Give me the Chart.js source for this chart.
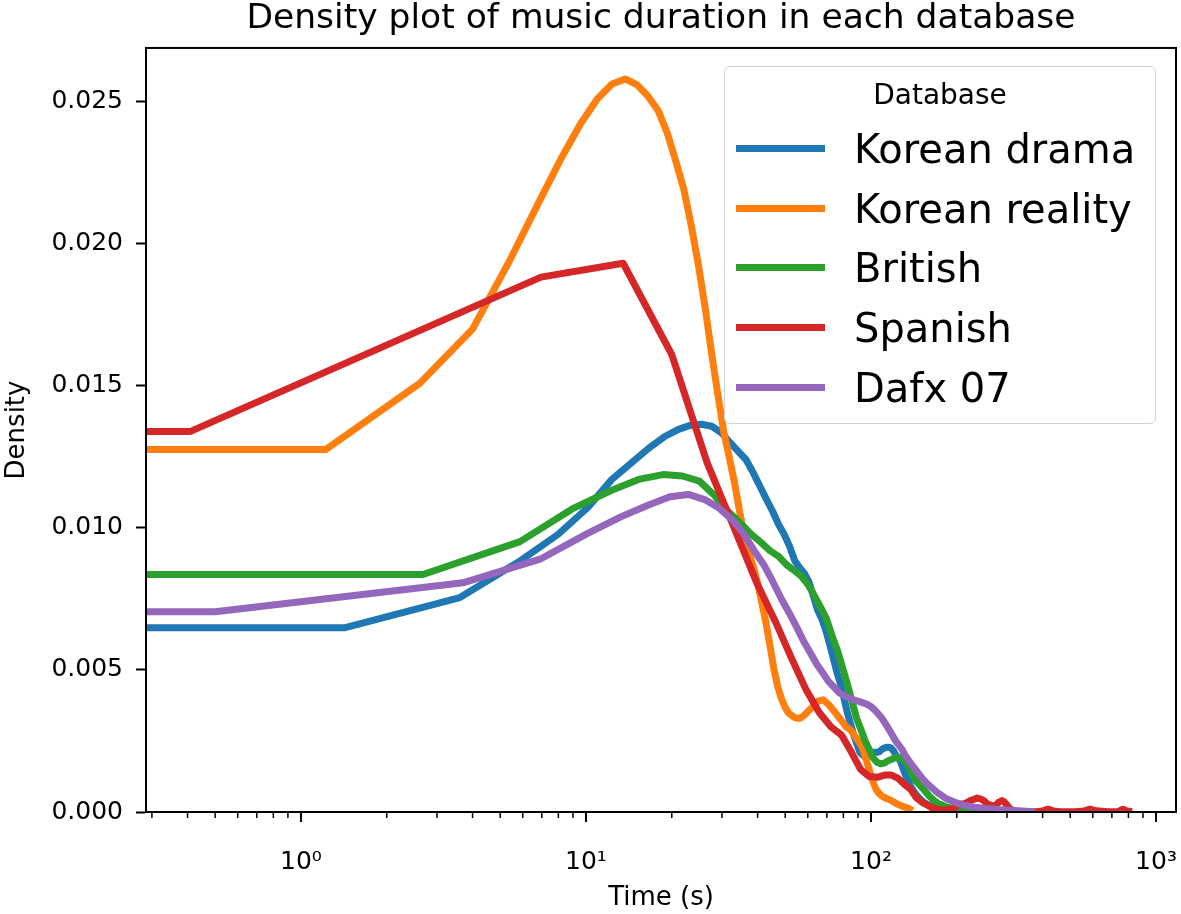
<!DOCTYPE html>
<html>
<head>
<meta charset="utf-8">
<script src="https://cdn.jsdelivr.net/npm/chart.js@4.4.1/dist/chart.umd.min.js"></script>
<style>
  body { margin: 0; background: #fff; }
  #wrap { position: relative; width: 1181px; height: 914px; font-family: "DejaVu Sans", sans-serif; color: #000; }
  #legend { position: absolute; left: 724px; top: 66px; width: 430px; height: 356px;
            border: 1.5px solid #d0d0d0; border-radius: 6px; background: rgba(255,255,255,0.8); }
  #legend .title { position: absolute; left: 0; right: 0; top: 11px; text-align: center; font-size: 28px; }
  #legend .row { position: absolute; left: 0; height: 50px; }
  #legend .swatch { position: absolute; left: 11px; top: 21px; width: 89px; height: 7px; }
  #legend .label { position: absolute; left: 129px; top: 0; font-size: 40px; line-height: 50px; white-space: nowrap; }
</style>
</head>
<body>
<div id="wrap">
  <canvas id="densityChart" width="1181" height="914"></canvas>
  <div id="legend"><div class="title">Database</div></div>
</div>
<script>
// series (time in s, density)
const seriesNames = ["Korean drama", "Korean reality", "British", "Spanish", "Dafx 07"];
const seriesColors = ["#1f77b4", "#ff7f0e", "#2ca02c", "#d62728", "#9467bd"];

const dramaTime = [0.1, 1.43, 3.61, 5.79, 7.97, 10.15, 12.33, 14.5, 16.7, 18.9, 21.1, 23.2, 25.4, 27.6, 29.8, 32, 34.2, 36.4, 38.6, 40.8, 43, 45.2, 47.4, 49.6, 51.8, 54, 56.2, 58.4, 60.6, 62.8, 65, 67.2, 69.4, 71.6, 73.8, 76, 78.2, 80.4, 82.6, 84.8, 87, 89.2, 91.4, 93.6, 95.8, 98, 100.2, 102.4, 104.6, 106.8, 109, 111.2, 113.4, 115.6, 117.8, 120, 122.2, 124.4, 126.6, 128.8, 131, 133.2, 135.4, 137.6, 139.8, 142, 144.2, 146.4, 150.8, 155.2, 163.9, 172.7, 185.8, 199, 221, 250, 300, 340];
const dramaDensity = [0.00649, 0.00649, 0.00755, 0.0088, 0.00977, 0.01072, 0.01171, 0.01231, 0.01283, 0.01322, 0.01347, 0.01361, 0.01365, 0.01358, 0.01336, 0.01301, 0.0127, 0.01241, 0.01195, 0.01146, 0.011, 0.01058, 0.01012, 0.00977, 0.00935, 0.00885, 0.0086, 0.0084, 0.0081, 0.0076, 0.0071, 0.0068, 0.0064, 0.0059, 0.0054, 0.0049, 0.0045, 0.004, 0.0035, 0.0031, 0.0027, 0.0024, 0.0021, 0.002, 0.00195, 0.002, 0.0021, 0.0021, 0.0021, 0.00212, 0.0022, 0.00225, 0.00228, 0.00228, 0.00225, 0.00215, 0.002, 0.0019, 0.0018, 0.0016, 0.0014, 0.0012, 0.0011, 0.0009, 0.0008, 0.0007, 0.0006, 0.00053, 0.0004, 0.0003, 0.00018, 0.00013, 0.0001, 0.00007, 0.00004, 0.00002, 0.00001, 0];

const realityTime = [0.1, 1.22, 2.61, 4.0, 5.39, 6.78, 8.17, 9.56, 10.95, 12.34, 13.73, 15.12, 16.51, 17.9, 19.29, 20.68, 22.07, 23.46, 24.85, 26.24, 27.63, 29.02, 30.41, 31.8, 33.19, 34.58, 35.97, 37.36, 38.75, 40.14, 41.53, 42.92, 44.31, 45.7, 47.09, 48.48, 49.87, 51.26, 52.65, 54.04, 55.43, 56.82, 58.21, 59.6, 62.38, 65.16, 67.94, 70.72, 73.5, 76.28, 79.06, 81.84, 84.62, 87.4, 90.18, 92.96, 95.74, 98.52, 101.3, 104.08, 106.86, 109.64, 112.42, 118, 123.5, 129, 134.6, 140.2];
const realityDensity = [0.01276, 0.01276, 0.01509, 0.017, 0.0194, 0.0214, 0.023, 0.02422, 0.0251, 0.02563, 0.02581, 0.0256, 0.0252, 0.0247, 0.0239, 0.0229, 0.0219, 0.0206, 0.0192, 0.0177, 0.0161, 0.0147, 0.0134, 0.0125, 0.0116, 0.0106, 0.0097, 0.0091, 0.0086, 0.008, 0.0073, 0.0066, 0.0058, 0.005, 0.0044, 0.004, 0.0037, 0.0035, 0.0034, 0.00332, 0.0033, 0.00332, 0.0034, 0.0035, 0.0037, 0.0039, 0.00395, 0.0038, 0.0036, 0.0034, 0.0032, 0.003, 0.0029, 0.0027, 0.0025, 0.0023, 0.0019, 0.0015, 0.0011, 0.0008, 0.00065, 0.00055, 0.00049, 0.0004, 0.00028, 0.0002, 0.00014, 0.00005];

const britishTime = [0.1, 2.68, 5.87, 9.06, 12.25, 15.44, 18.63, 21.8, 25, 28.2, 31.4, 34.6, 37.8, 41, 44.2, 47.4, 50.6, 53.8, 57, 60.2, 63.4, 66.6, 69.8, 73, 76.2, 79.4, 82.6, 85.8, 89, 92.2, 95.4, 98.6, 101.8, 105, 108.2, 111.4, 114.6, 117.8, 121, 124.2, 127.4, 130.6, 133.8, 137, 140.2, 143.4, 146.6, 153, 159.4, 165.8, 172.2, 185, 200, 230, 260, 300, 340];
const britishDensity = [0.00836, 0.00836, 0.00952, 0.0107, 0.01132, 0.01172, 0.01188, 0.01183, 0.01165, 0.01115, 0.0106, 0.0102, 0.0098, 0.0095, 0.0092, 0.009, 0.0087, 0.0085, 0.0083, 0.008, 0.0076, 0.0072, 0.0068, 0.0062, 0.0057, 0.0051, 0.0045, 0.0039, 0.0033, 0.0029, 0.0025, 0.0022, 0.0019, 0.00175, 0.0017, 0.00172, 0.0018, 0.00185, 0.0019, 0.00193, 0.00192, 0.0018, 0.0017, 0.0015, 0.0013, 0.0011, 0.001, 0.0008, 0.00058, 0.00042, 0.0003, 0.00017, 0.00011, 0.00007, 0.00004, 0.00002, 0.00001];

const spanishTime = [0.1, 0.41, 6.95, 13.5, 20.0, 26.6, 33.1, 39.6, 46.2, 52.7, 59.2, 65.8, 72.3, 78.9, 85.4, 91.9, 98.5, 105, 111.5, 118, 124.6, 131.1, 137.7, 144.2, 150.7, 157.3, 163.8, 170.3, 176.9, 183.4, 190, 196.5, 203, 209.6, 216, 222.6, 229, 235.7, 242, 248.7, 255, 261.8, 268, 274.8, 281, 288, 294, 301, 307, 314, 320, 340, 380, 400, 418, 436, 460, 520, 560, 587, 614, 680, 740, 766, 790, 824];
const spanishDensity = [0.0134, 0.0134, 0.01883, 0.01932, 0.0161, 0.0123, 0.01, 0.0081, 0.0067, 0.0054, 0.0043, 0.0035, 0.003, 0.0027, 0.0021, 0.0015, 0.00125, 0.00122, 0.0013, 0.0013, 0.00118, 0.00097, 0.0008, 0.0005, 0.00035, 0.00025, 0.00014, 0.0001, 0.00007, 0.00008, 0.0001, 0.00015, 0.00028, 0.00028, 0.00032, 0.0004, 0.00044, 0.00049, 0.00046, 0.0004, 0.0003, 0.00025, 0.0002, 0.00025, 0.00035, 0.0004, 0.00035, 0.00022, 0.00012, 0.00006, 0.00003, 0.00002, 0.00001, 0.00004, 0.0001, 0.00004, 0.00001, 0.00001, 0.00004, 0.0001, 0.00004, 0.00001, 0.00002, 0.0001, 0.00004, 0.00001];

const dafxTime = [0.1, 0.5, 3.7, 6.9, 10.1, 13.3, 16.5, 19.7, 22.9, 26.1, 29.3, 32.5, 35.7, 38.9, 42.1, 45.3, 48.5, 51.7, 54.9, 58.1, 61.3, 64.5, 67.7, 70.9, 74.1, 77.3, 80.5, 83.7, 86.9, 90.1, 93.3, 96.5, 99.7, 102.9, 106.1, 109.3, 112.5, 115.7, 118.9, 122.1, 125.3, 128.5, 131.7, 138.1, 144.5, 150.9, 157.3, 163.7, 170.1, 182.9, 195.7, 208.5, 227.7, 253.3, 285.3, 317.3, 349.3, 375];
const dafxDensity = [0.00705, 0.00705, 0.00807, 0.0089, 0.0098, 0.0104, 0.0108, 0.0111, 0.01118, 0.011, 0.0107, 0.0103, 0.0098, 0.0092, 0.0087, 0.0081, 0.0075, 0.007, 0.0065, 0.006, 0.0056, 0.0052, 0.0049, 0.0046, 0.0044, 0.0042, 0.0041, 0.00402, 0.00395, 0.0039, 0.00385, 0.0038, 0.00372, 0.0036, 0.00345, 0.0033, 0.0031, 0.0029, 0.0027, 0.0025, 0.00235, 0.0022, 0.002, 0.0017, 0.00145, 0.0012, 0.001, 0.00085, 0.0007, 0.00048, 0.00035, 0.00026, 0.00018, 0.00012, 0.00008, 0.00005, 0.00003, 0.00001];

// axes
const xMin = 0.286, xMax = 1175;
const xMajorTicks = [1, 10, 100, 1000];
const xTickLabels = ["10⁰", "10¹", "10²", "10³"];
const yMin = 0, yMax = 0.0269;
const yTicks = [0, 0.005, 0.01, 0.015, 0.02, 0.025];

const times = [dramaTime, realityTime, britishTime, spanishTime, dafxTime];
const densities = [dramaDensity, realityDensity, britishDensity, spanishDensity, dafxDensity];

Chart.defaults.font.family = "'DejaVu Sans', sans-serif";
Chart.defaults.color = "#000";

// spines on top of the lines, plus major/minor x ticks
const frame = {
  id: "frame",
  afterDatasetsDraw(chart) {
    const { ctx, chartArea: a } = chart;
    const x = chart.scales.x;
    ctx.save();
    ctx.strokeStyle = "#000";
    ctx.lineWidth = 2;
    ctx.strokeRect(a.left, a.top, a.right - a.left, a.bottom - a.top);
    x.ticks.forEach(t => {
      const px = x.getPixelForValue(t.value);
      const major = xMajorTicks.includes(t.value);
      ctx.lineWidth = major ? 2 : 1.5;
      ctx.beginPath();
      ctx.moveTo(px, a.bottom);
      ctx.lineTo(px, a.bottom + (major ? 10 : 6));
      ctx.stroke();
    });
    ctx.restore();
  }
};

new Chart(document.getElementById("densityChart"), {
  type: "line",
  data: {
    datasets: seriesNames.map((name, i) => ({
      label: name,
      data: times[i].map((t, j) => ({ x: t, y: densities[i][j] })),
      borderColor: seriesColors[i],
      borderWidth: 7,
      borderJoinStyle: "round",
      pointRadius: 0,
      tension: 0,
      fill: false,
      clip: 0,
      order: seriesNames.length - i
    }))
  },
  options: {
    responsive: false,
    animation: false,
    devicePixelRatio: 1,
    layout: { padding: { top: 0, right: 5, bottom: 0, left: 0 } },
    plugins: {
      legend: { display: false },
      tooltip: { enabled: false },
      title: {
        display: true,
        fullSize: false,
        text: "Density plot of music duration in each database",
        font: { size: 34.5, weight: "normal", lineHeight: 1.1 },
        padding: { top: 0, bottom: 10 }
      }
    },
    scales: {
      x: {
        type: "logarithmic",
        min: xMin,
        max: xMax,
        grid: { display: false },
        border: { display: false },
        afterBuildTicks: s => {
          const ticks = [];
          for (let e = -1; e <= 3; e++) {
            for (let m = 1; m < 10; m++) {
              const v = m * Math.pow(10, e);
              if (v >= xMin && v <= xMax) ticks.push({ value: v });
            }
          }
          s.ticks = ticks;
        },
        afterFit: s => { s.height = 102; s.paddingLeft = 0; s.paddingRight = 0; },
        ticks: {
          autoSkip: false,
          maxRotation: 0,
          minRotation: 0,
          padding: 27,
          font: { size: 25 },
          callback: v => {
            const k = xMajorTicks.indexOf(v);
            return k >= 0 ? xTickLabels[k] : "";
          }
        },
        title: { display: true, text: "Time (s)", font: { size: 26 }, padding: { top: 0, bottom: 0 } }
      },
      y: {
        min: yMin,
        max: yMax,
        grid: { drawOnChartArea: false, drawTicks: true, tickLength: 10, tickWidth: 2, tickColor: "#000" },
        border: { display: true, color: "#000", width: 2 },
        afterBuildTicks: s => { s.ticks = yTicks.map(v => ({ value: v })); },
        afterFit: s => { s.width = 146; s.paddingTop = 0; s.paddingBottom = 0; },
        ticks: { padding: 13, font: { size: 25 }, callback: v => v.toFixed(3) },
        title: { display: true, text: "Density", font: { size: 26 }, padding: { top: 2, bottom: 0 } }
      }
    }
  },
  plugins: [frame]
});

// legend box, built from the same names and colours
const legend = document.getElementById("legend");
seriesNames.forEach((name, i) => {
  const row = document.createElement("div");
  row.className = "row";
  row.style.top = (57 + i * 59.7) + "px";
  row.innerHTML = `<div class="swatch" style="background:${seriesColors[i]}"></div><div class="label">${name}</div>`;
  legend.appendChild(row);
});
</script>
</body>
</html>
